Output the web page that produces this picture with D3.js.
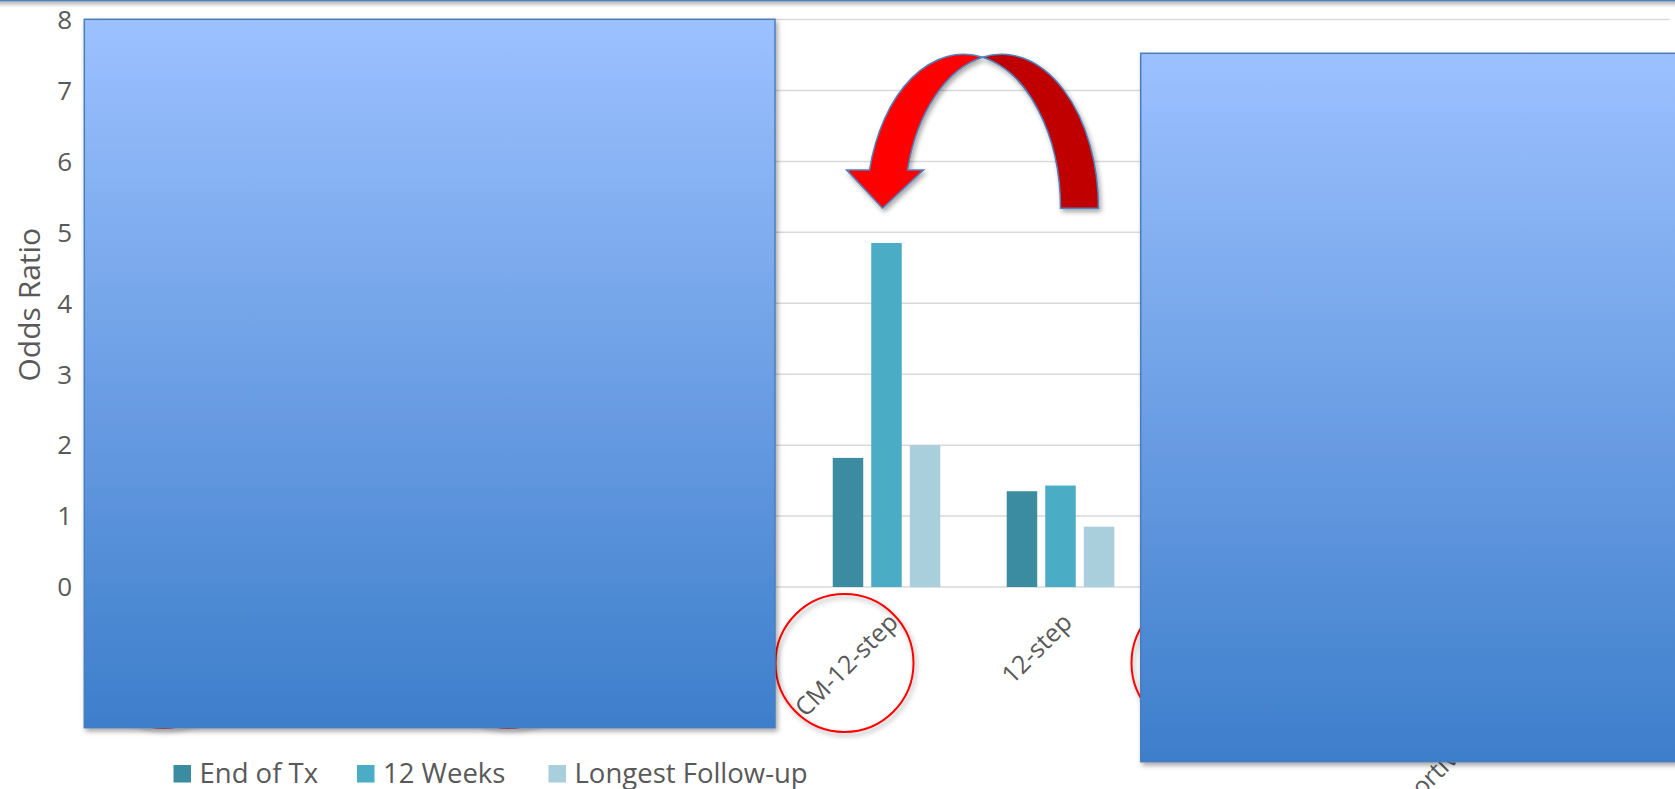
<!DOCTYPE html>
<html>
<head>
<meta charset="utf-8">
<script src="https://cdn.jsdelivr.net/npm/d3@7"></script>
<style>
  body { margin: 0; background: #fff; }
  svg { display: block; }
  text { font-family: "Open Sans", Lato, sans-serif; fill: #595959; }
</style>
</head>
<body>
<div id="chart"></div>
<script>
// categories (the ones under the cover boxes can't be read off the slide)
var categories = ["CM", "CBT", "CM-CBT", "CRA", "CM-12-step", "12-step", "CM-CRA", "TAU", "Supportive Psychotherapy"];
var seriesNames = ["End of Tx", "12 Weeks", "Longest Follow-up"];
var endOfTx  = [null, null, null, null, 1.82, 1.35, null, null, null];
var weeks12  = [null, null, null, null, 4.85, 1.43, null, null, null];
var longest  = [null, null, null, null, 2.0, 0.85, null, null, null];
var yTicks = [0, 1, 2, 3, 4, 5, 6, 7, 8];
var refValue = 1;
var circled = [0, 2, 4, 6];          // categories ringed in red
var circleShift = [-27, -30, -42, -34];
var circleDrop = [72, 72, 76, 76];
var colors = ["#3b8ba1", "#4bacc6", "#a9cedc"];

var W = 1675, H = 789;
var svg = d3.select('#chart').append('svg')
  .attr('width', W).attr('height', H);

var defs = svg.append('defs');
var shadow = defs.append('filter').attr('id', 'shadow')
  .attr('x', '-10%').attr('y', '-10%').attr('width', '130%').attr('height', '130%');
shadow.append('feDropShadow').attr('dx', 2).attr('dy', 3).attr('stdDeviation', 2.5)
  .attr('flood-color', '#000').attr('flood-opacity', 0.35);

var grad = defs.append('linearGradient').attr('id', 'boxFill')
  .attr('x1', 0).attr('y1', 0).attr('x2', 0).attr('y2', 1);
grad.append('stop').attr('offset', '0%').attr('stop-color', '#9cc1ff');
grad.append('stop').attr('offset', '100%').attr('stop-color', '#3d7ecb');

var topShade = defs.append('linearGradient').attr('id', 'topShade')
  .attr('x1', 0).attr('y1', 0).attr('x2', 0).attr('y2', 1);
topShade.append('stop').attr('offset', '0%').attr('stop-color', '#b8b8b8');
topShade.append('stop').attr('offset', '100%').attr('stop-color', '#fff');

// scales
var x = d3.scaleBand().domain(categories).range([103.5, 1669.5])
  .paddingInner(0.382).paddingOuter(0.191);
var xs = d3.scaleBand().domain(seriesNames).range([0, x.bandwidth()]).paddingInner(0.208);
var y = d3.scaleLinear().domain([0, 8]).range([587, 19.5]);
var mid = function(c){ return x(c) + x.bandwidth() / 2; };

// gridlines
svg.append('g').selectAll('line').data(yTicks).join('line')
  .attr('x1', x.range()[0]).attr('x2', x.range()[1])
  .attr('y1', function(d){ return y(d); }).attr('y2', function(d){ return y(d); })
  .style('stroke', '#d9d9d9').style('stroke-width', 1.5);

// tick labels
svg.append('g').selectAll('text').data(yTicks).join('text')
  .attr('x', 72).attr('y', function(d){ return y(d); })
  .attr('dy', '0.36em').attr('text-anchor', 'end')
  .style('font-size', '26px').text(function(d){ return d; });

svg.append('text')
  .attr('transform', 'translate(40,' + ((y(2.38) + y(5.58)) / 2) + ') rotate(-90)')
  .attr('text-anchor', 'middle').style('font-size', '30px').text('Odds Ratio');

// bars
var series = [endOfTx, weeks12, longest];
series.forEach(function(vals, si){
  var rows = categories.map(function(c, i){ return { cat: c, v: vals[i] }; })
    .filter(function(r){ return r.v != null; });
  svg.append('g').selectAll('rect').data(rows).join('rect')
    .attr('x', function(d){ return x(d.cat) + xs(seriesNames[si]); })
    .attr('y', function(d){ return y(d.v); })
    .attr('width', xs.bandwidth())
    .attr('height', function(d){ return y(0) - y(d.v); })
    .style('fill', colors[si]);
});

// category labels, rotated
svg.append('g').selectAll('text').data(categories).join('text')
  .attr('transform', function(d){
    return 'translate(' + (mid(d) + 13) + ',' + (y(0) + 37) + ') rotate(-45)';
  })
  .attr('text-anchor', 'end').style('font-size', '25px').text(function(d){ return d; });

// red rings round some labels
svg.append('g').selectAll('circle').data(circled).join('circle')
  .attr('cx', function(d, i){ return mid(categories[d]) + circleShift[i]; })
  .attr('cy', function(d, i){ return y(0) + circleDrop[i]; }).attr('r', 69)
  .style('fill', 'none').style('stroke', '#ff0000').style('stroke-width', 2)
  .attr('filter', 'url(#shadow)');

// OR = 1 reference line
svg.append('line')
  .attr('x1', x.range()[0]).attr('x2', x.range()[1])
  .attr('y1', y(refValue) - 3).attr('y2', y(refValue) - 3)
  .style('stroke', '#4f81bd').style('stroke-width', 6.5)
  .attr('filter', 'url(#shadow)');

// curved arrow from 12-step back to CM-12-step
var cA = mid('CM-12-step'), cB = mid('12-step');
var cy = y(5.34), ry = cy - y(7.51), rx = 97;
var c1 = (cA - 20 + cB) / 2, c2 = c1 + 38;     // two offset ellipses
var dxi = (c2 - c1) / 2;
var yi = cy - ry * Math.sqrt(1 - (dxi / rx) * (dxi / rx));
var xi = c1 + dxi;
var yHead = y(5.88);
var off = rx * Math.sqrt(1 - Math.pow((cy - yHead) / ry, 2));
var l1 = c1 - off, l2 = c2 - off;
var redPath = 'M' + l1 + ',' + yHead +
  'L' + (l1 - 23) + ',' + yHead +
  'L' + (cA - 4) + ',' + cy +
  'L' + (l2 + 16) + ',' + yHead +
  'L' + l2 + ',' + yHead +
  'A' + rx + ',' + ry + ' 0 0 1 ' + xi + ',' + yi +
  'A' + rx + ',' + ry + ' 0 0 0 ' + l1 + ',' + yHead + 'Z';
var darkPath = 'M' + xi + ',' + yi +
  'A' + rx + ',' + ry + ' 0 0 1 ' + (c2 + rx) + ',' + cy +
  'L' + (c1 + rx) + ',' + cy +
  'A' + rx + ',' + ry + ' 0 0 0 ' + xi + ',' + yi + 'Z';
var arrow = svg.append('g').attr('filter', 'url(#shadow)');
arrow.append('path').attr('d', darkPath)
  .style('fill', '#c00000').style('stroke', '#4f81bd').style('stroke-width', 1.5);
arrow.append('path').attr('d', redPath)
  .style('fill', '#ff0000').style('stroke', '#4f81bd').style('stroke-width', 1.5);

// blue cover boxes
var boxes = [{ x: 84.3, y: 19.3, w: 690.7, h: 708.4 }, { x: 1140.7, y: 53.3, w: 690.7, h: 708.4 }];
svg.append('g').selectAll('rect').data(boxes).join('rect')
  .attr('x', function(d){ return d.x; }).attr('y', function(d){ return d.y; })
  .attr('width', function(d){ return d.w; }).attr('height', function(d){ return d.h; })
  .style('fill', 'url(#boxFill)').style('stroke', '#4a7ebb').style('stroke-width', 1.5)
  .attr('filter', 'url(#shadow)');

// legend
var legendX = [173.5, 357, 548.5];
var legend = svg.append('g').selectAll('g').data(seriesNames).join('g')
  .attr('transform', function(d, i){ return 'translate(' + legendX[i] + ',765)'; });
legend.append('rect').attr('width', 17.5).attr('height', 17.5)
  .style('fill', function(d, i){ return colors[i]; });
legend.append('text').attr('x', 26).attr('y', 17.9)
  .style('font-size', '27.5px').text(function(d){ return d; });

// slide top rule
svg.append('rect').attr('x', 0).attr('y', 1.5).attr('width', W).attr('height', 6)
  .style('fill', 'url(#topShade)');
svg.append('rect').attr('x', 0).attr('y', 0).attr('width', W).attr('height', 1.5)
  .style('fill', '#4f81bd');
</script>
</body>
</html>
